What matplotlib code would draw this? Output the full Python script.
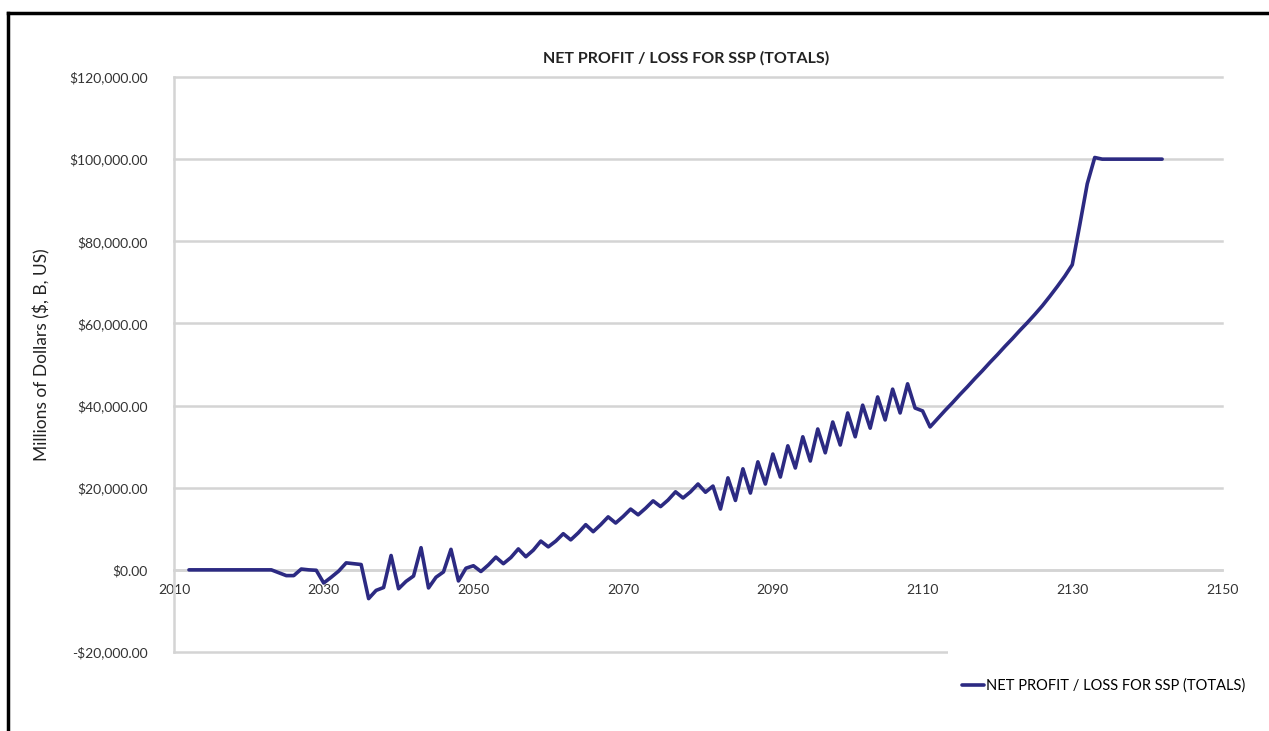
import matplotlib.pyplot as plt
from matplotlib.lines import Line2D
from matplotlib.patches import Rectangle
from matplotlib.ticker import FuncFormatter

# --- data (millions of dollars per year) ---
years = list(range(2012, 2143))

profit = [
    # 2012-2023
    0, 0, 0, 0, 0, 0, 0, 0, 0, 0, 0, 0,
    # 2024-2035
    -700, -1400, -1400, 200, 0, -100, -3200, -1800, -300, 1700, 1500, 1300,
    # 2036-2047
    -7000, -5000, -4300, 3500, -4600, -2800, -1500, 5400, -4400, -1800, -500, 5000,
    # 2048-2059
    -2700, 400, 1000, -400, 1200, 3100, 1500, 3000, 5100, 3200, 4800, 7000,
    # 2060-2071
    5600, 7000, 8800, 7300, 9000, 11000, 9300, 11000, 12900, 11400, 13000, 14800,
    # 2072-2083
    13400, 15000, 16800, 15400, 17000, 19000, 17500, 19000, 20900, 18900, 20400, 14800,
    # 2084-2095
    22400, 16900, 24600, 18700, 26300, 20900, 28200, 22600, 30200, 24800, 32400, 26500,
    # 2096-2107
    34300, 28500, 36000, 30400, 38200, 32400, 40100, 34500, 42100, 36500, 44000, 38200,
    # 2108-2119
    45300, 39400, 38700, 34800, 36800, 38800, 40700, 42700, 44600, 46600, 48500, 50500,
    # 2120-2131
    52400, 54400, 56300, 58300, 60200, 62200, 64300, 66600, 69000, 71500, 74300, 84000,
    # 2132-2142
    94000, 100400, 100000, 100000, 100000, 100000, 100000, 100000, 100000, 100000, 100000,
]

x_ticks = [2010, 2030, 2050, 2070, 2090, 2110, 2130, 2150]
y_ticks = [-20000, 0, 20000, 40000, 60000, 80000, 100000, 120000]

series_name = "NET PROFIT / LOSS FOR SSP (TOTALS)"
chart_title = "NET PROFIT / LOSS FOR SSP (TOTALS)"
y_title = "Millions of Dollars ($, B, US)"

LINE_COLOR = "#2c2a82"
GRID_COLOR = "#d4d4d4"

plt.rcParams['font.family'] = ['Lato', 'DejaVu Sans']

fig = plt.figure(figsize=(12.69, 7.31), dpi=100)
ax = fig.add_axes([174 / 1269, 1 - 652 / 731, (1222 - 174) / 1269, (652 - 77) / 731])

ax.plot(years, profit, color=LINE_COLOR, linewidth=2.6, solid_joinstyle="round",
        solid_capstyle="round", label=series_name, zorder=3)

ax.set_xlim(2010, 2150)
ax.set_ylim(-20000, 120000)
ax.set_xticks(x_ticks)
ax.set_yticks(y_ticks)


def money(v, pos):
    if v < 0:
        return "-${:,.2f}".format(-v)
    return "${:,.2f}".format(v)


ax.yaxis.set_major_formatter(FuncFormatter(money))

ax.grid(axis="y", color=GRID_COLOR, linewidth=1.8, zorder=0)
ax.set_axisbelow(True)
for gl in ax.get_ygridlines():
    gl.set_clip_on(False)

for side in ["top", "right"]:
    ax.spines[side].set_visible(False)
ax.spines["bottom"].set_position(("data", 0))
ax.spines["bottom"].set_color(GRID_COLOR)
ax.spines["bottom"].set_linewidth(1.8)
ax.spines["left"].set_color(GRID_COLOR)
ax.spines["left"].set_linewidth(1.8)

ax.tick_params(axis="x", length=0, pad=10, labelsize=10, labelcolor="#333333")
ax.tick_params(axis="y", length=0, pad=19, labelsize=10, labelcolor="#333333")

fig.text(686 / 1269, 1 - 58 / 731, chart_title, ha="center", va="center",
         fontsize=11.5, fontweight="bold", color="#222222")
fig.text(42 / 1269, 1 - 355 / 731, y_title, ha="center", va="center",
         rotation=90, fontsize=12.5, color="#222222")

# white legend area that hides the end of the lowest gridline
fig.add_artist(Rectangle((948 / 1269, 0), 1 - 948 / 1269, 1 - 641 / 731,
                         transform=fig.transFigure, facecolor="white",
                         edgecolor="none", zorder=5))

leg = fig.legend(loc="center left", bbox_to_anchor=(962 / 1269, 1 - 686 / 731),
                 frameon=False, fontsize=10.5, handlelength=1.5, handletextpad=0.15,
                 borderpad=0, borderaxespad=0)
leg.set_zorder(10)

# black frame around the chart (top and left edges visible)
fig.add_artist(Line2D([8 / 1269, 1], [1 - 13 / 731, 1 - 13 / 731],
                      color="black", linewidth=2.5, transform=fig.transFigure))
fig.add_artist(Line2D([8 / 1269, 8 / 1269], [1 - 13 / 731, 0],
                      color="black", linewidth=2.5, transform=fig.transFigure))

fig.savefig("out.png", dpi=100)
